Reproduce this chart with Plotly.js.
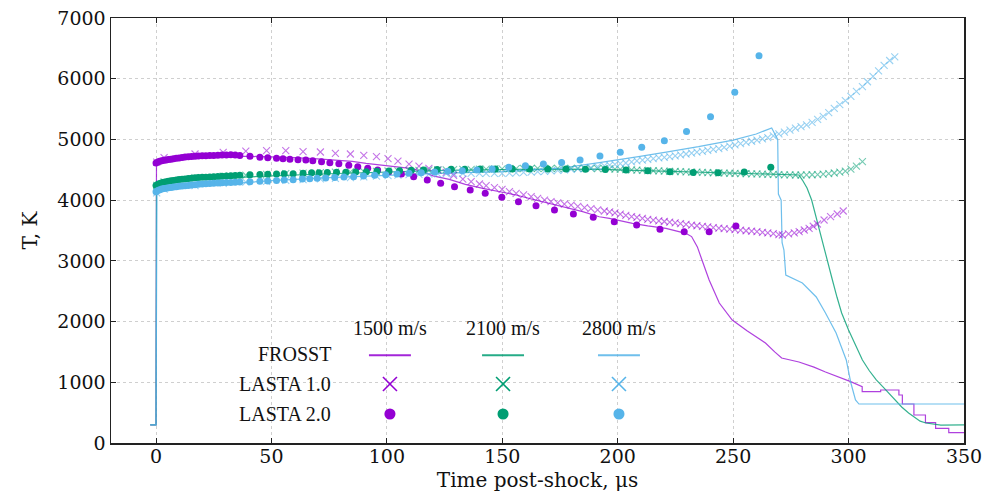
<!DOCTYPE html>
<html>
<head>
<meta charset="utf-8">
<script src="https://cdn.plot.ly/plotly-3.0.1.min.js"></script>
<style>html,body{margin:0;padding:0;background:#fff;}#chart{width:992px;height:500px;}</style>
</head>
<body>
<div id="chart"></div>
<script>
// ---- Data (time in µs, temperature in K) ----
const velocities = ["1500 m/s", "2100 m/s", "2800 m/s"];
const modelNames = ["FROSST", "LASTA 1.0", "LASTA 2.0"];
const colors = ["#9400d3", "#009e73", "#56b4e9"];

// FROSST (lines)
const frosst1500_t = [-2.5,0,0.2,1,3,6,10,15,20,30,40,50,60,70,80,85,91,101,106,111,116,120,127,134,141.6,149,156,163,170.4,177,184.8,192,196.4,206.4,213,220.9,226,229.5,232,234.5,236.5,239.6,244,249.6,256,264,268,271,278.5,285,290,296,300.9,305.9,305.9,313.9,313.9,321.8,321.8,323.3,323.3,328.3,328.3,333.3,333.3,337.7,337.7,343.4,343.4,350];
const frosst1500_T = [300,300,4600,4625,4650,4670,4690,4705,4712,4720,4722,4715,4700,4680,4655,4640,4606,4562,4545,4520,4460,4400,4342,4260,4194,4134,4085,4015,3947,3880,3810,3727,3700,3618,3575,3536,3490,3453,3400,3230,3014,2685,2306,2026,1850,1647,1500,1400,1334,1250,1170,1087,1010,927,845,845,873,873,791,791,642,642,461,461,335,335,241,241,170,170];

const frosst2100_t = [-2.5,0,0.2,2,5,10,20,30,50,75,100,125,150,175,190,200,220,240,260,270,278.5,280,282,284,286,288.5,291,293,295,297,300,303,306,309,312,315,317.5,320,323,326,329,331,333.5,337,340,350];
const frosst2100_T = [300,300,4240,4270,4295,4320,4345,4365,4400,4435,4465,4490,4505,4512,4510,4500,4480,4455,4430,4418,4414,4331,4200,4002,3700,3343,2990,2685,2400,2141,1861,1600,1367,1190,1038,920,823,720,593,495,412,360,329,305,296,300];

const frosst2800_t = [-2.5,0,0.4,2,5,10,20,30,50,75,100,125,150,175,192,200,209,221,235,250,260,266.7,268.5,269.3,269.6,270.8,271.2,272,272.8,275.5,280,286,290,294.6,299,301,303,304.5,350];
const frosst2800_T = [300,300,4100,4140,4170,4200,4240,4270,4320,4370,4410,4445,4470,4525,4617,4660,4716,4790,4880,4990,5090,5188,5060,5000,4100,4000,3300,3178,2767,2718,2635,2405,2141,1812,1367,988,708,642,642];

// LASTA 1.0 (x markers)
const lasta1_1500_t = [0.3,3.5,16.9,29.1,38.9,47.9,56.2,63.7,71.2,77.7,84.2,90,95.5,100.5,104.8,109.6,113.9,118.2,122.1,125.7,128.9,132.9,136.5,140.1,143,146.6,149.9,153.1,156,159.2,162.5,165.3,168.3,171.1,174,176.9,179.8,182.7,185.6,188.4,191.3,194.2,196.5,198.8,201.1,203.5,206,208.3,210.7,213,215.4,217.8,220.2,222.5,224.9,227.2,229.6,232,234.3,236.7,239,241.4,243.8,246.1,248.5,250.8,253.2,255.6,258,260.3,262.7,265,267.4,269.8,271.3,274,276.5,278.6,280.8,282.9,284.7,286.5,289.4,292.2,295.1,297.7];
const lasta1_1500_T = [4625,4700,4760,4787,4809,4815,4815,4798,4793,4771,4760,4738,4716,4683,4644,4595,4562,4524,4496,4458,4410,4345,4304,4266,4238,4205,4178,4139,4112,4085,4057,4030,4002,3975,3955,3936,3917,3898,3878,3859,3840,3821,3805,3790,3770,3750,3730,3715,3700,3685,3672,3660,3648,3637,3625,3612,3600,3590,3578,3568,3558,3548,3540,3532,3523,3515,3505,3496,3488,3480,3470,3460,3448,3432,3426,3445,3462,3480,3508,3536,3570,3607,3673,3727,3772,3821];

const lasta1_2100_t = [0.3,3.5,16.9,29.1,38.9,47.9,56.2,63.7,71.2,77.7,84.2,90,95.5,100.5,104.8,109.6,113.9,118.2,122.1,125.7,128.9,132.9,136.5,140.1,143,146.6,149.9,153.1,156,159.2,162.5,165.3,168.3,171.1,174,176.9,179.8,182.7,185.6,188.4,191.3,194.2,196.5,198.8,201.1,203.5,206,208.3,210.7,213,215.4,217.8,220.2,222.5,224.9,227.2,229.6,232,234.3,236.7,239,241.4,243.8,246.1,248.5,250.8,253.2,255.6,258,260.3,262.7,265,267.4,269.8,272.2,274.6,277,279.4,281.8,284.2,286.6,289,291.4,293.8,296.2,298.6,301,303.4,306];
const lasta1_2100_T = [4245,4300,4370,4395,4410,4425,4435,4445,4455,4460,4465,4470,4475,4480,4483,4487,4490,4494,4497,4500,4502,4505,4507,4510,4512,4514,4516,4518,4520,4521,4522,4523,4524,4524,4524,4524,4524,4524,4523,4522,4520,4518,4515,4512,4508,4503,4498,4494,4490,4487,4484,4481,4478,4475,4472,4469,4466,4463,4460,4457,4454,4451,4448,4446,4443,4440,4438,4436,4433,4431,4428,4426,4424,4420,4417,4415,4414,4414,4415,4418,4422,4428,4436,4447,4460,4478,4510,4560,4633];

const lasta1_2800_t = [0.3,3.5,16.9,29.1,38.9,47.9,56.2,63.7,71.2,77.7,84.2,90,95.5,100.5,104.8,109.6,113.9,118.2,122.1,125.7,128.9,132.9,136.5,140.1,143,146.6,149.9,153.1,156,159.2,162.5,165.3,168.3,171.1,174,176.9,179.8,182.7,185.6,188.4,191.3,194.2,196.5,198.8,201.1,203.5,206,208.3,210.7,213,215.4,217.8,220.2,222.5,224.9,227.2,229.6,232,234.3,236.7,239,241.4,243.8,246.1,248.5,250.8,253.2,255.6,258,260.3,262.7,265,267.4,269.8,272.2,274.6,277,279.4,281.8,284.2,286.6,289,291.4,293.8,296.2,298.6,301,303.4,306,308.2,310.6,313,315.4,317.8,320];
const lasta1_2800_T = [4120,4180,4240,4275,4295,4310,4325,4338,4350,4360,4372,4382,4395,4405,4412,4420,4425,4430,4433,4436,4438,4440,4441,4441,4441,4441,4442,4445,4450,4456,4462,4468,4475,4482,4490,4498,4507,4516,4526,4537,4550,4565,4578,4590,4600,4612,4630,4645,4660,4672,4685,4695,4705,4717,4730,4745,4760,4775,4790,4805,4820,4835,4850,4870,4890,4910,4930,4950,4970,4990,5010,5030,5060,5090,5120,5155,5185,5210,5240,5280,5330,5380,5440,5510,5575,5640,5710,5790,5870,5950,6040,6130,6220,6300,6360];

// LASTA 2.0 (dots)
const lasta2_1500_t = [0,0.8,1.6,2.5,3.4,4.4,5.4,6.5,7.6,8.8,10,11.3,12.6,14,15.4,16.9,18.4,20,21.6,23.3,25,26.8,28.6,30.5,32.4,34.3,36.3,40.7,45,48.4,52.2,55,58,61.5,64.9,67.9,71.7,75.3,79.2,83.5,87.4,91.7,96,100.8,106.3,111.6,117.5,123.3,129.3,136.1,142.6,149.8,157,164.6,172.6,180.8,189.4,198.5,208.2,218.3,228.8,239.6,251.2];
const lasta2_1500_T = [4610,4628,4640,4650,4657,4663,4668,4674,4680,4688,4696,4704,4710,4716,4720,4724,4728,4731,4733,4735,4737,4739,4742,4745,4748,4745,4735,4722,4708,4699,4689,4683,4675,4667,4660,4648,4633,4617,4598,4575,4551,4524,4497,4468,4430,4386,4333,4280,4222,4167,4112,4046,3975,3909,3838,3772,3717,3645,3590,3519,3480,3480,3576];

const lasta2_2100_t = [0,0.8,1.6,2.5,3.4,4.4,5.4,6.5,7.6,8.8,10,11.3,12.6,14,15.4,16.9,18.4,20,21.6,23.3,25,26.8,28.6,30.5,32.4,34.3,36.3,40.7,45,48.4,52.2,55.5,59.4,63.7,67.4,70.6,74.2,78.2,82.2,86.5,91.1,95.7,100.9,105.5,110.6,115.9,121.8,127.9,133.7,140.4,147,154.3,161.8,169.7,177.6,186,194.6,203.6,213,222.6,232.7,243.5,254.8,266.3];
const lasta2_2100_T = [4240,4262,4276,4286,4294,4302,4310,4318,4325,4332,4338,4344,4350,4356,4362,4367,4372,4376,4379,4382,4385,4388,4392,4396,4400,4404,4408,4417,4422,4425,4430,4433,4436,4445,4452,4453,4455,4458,4460,4463,4469,4477,4480,4485,4491,4496,4503,4508,4510,4511,4513,4513,4513,4513,4513,4510,4505,4496,4485,4469,4455,4452,4465,4540];

const lasta2_2800_t = [0,0.8,1.6,2.5,3.4,4.4,5.4,6.5,7.6,8.8,10,11.3,12.6,14,15.4,16.9,18.4,20,21.6,23.3,25,26.8,28.6,30.5,32.4,34.3,36.3,40.7,45,48.4,52.2,55.5,59.4,63.4,66.6,69.8,73.5,77.4,81.4,85.6,89.9,94.7,99.5,104.4,109.6,114.9,120.7,126.4,132.7,139,145.6,152.8,160,167.8,175.7,183.7,192.3,201.1,210.4,220.2,229.8,240.2,250.7,261.2];
const lasta2_2800_T = [4140,4160,4172,4182,4190,4197,4204,4210,4216,4222,4227,4232,4237,4243,4249,4255,4261,4266,4271,4276,4280,4284,4287,4290,4292,4295,4297,4304,4312,4316,4324,4330,4337,4348,4353,4359,4364,4375,4381,4386,4397,4408,4419,4430,4441,4452,4463,4475,4485,4496,4515,4540,4567,4595,4622,4661,4727,4787,4870,4979,5130,5374,5776,6379];

// ---- Traces ----
const lineAlpha = ["rgba(148,0,211,0.75)", "rgba(0,158,115,0.8)", "rgba(86,180,233,0.85)"];
const xAlpha = ["rgba(148,0,211,0.55)", "rgba(0,158,115,0.55)", "rgba(86,180,233,0.6)"];
const frT = [frosst1500_t, frosst2100_t, frosst2800_t];
const frV = [frosst1500_T, frosst2100_T, frosst2800_T];
const l1T = [lasta1_1500_t, lasta1_2100_t, lasta1_2800_t];
const l1V = [lasta1_1500_T, lasta1_2100_T, lasta1_2800_T];
const l2T = [lasta2_1500_t, lasta2_2100_t, lasta2_2800_t];
const l2V = [lasta2_1500_T, lasta2_2100_T, lasta2_2800_T];

const traces = [];
for (let i = 0; i < 3; i++) {
  traces.push({x: frT[i], y: frV[i], type: "scatter", mode: "lines",
    line: {color: lineAlpha[i], width: 1.2}, showlegend: false,
    name: modelNames[0] + " " + velocities[i]});
}
for (let i = 0; i < 3; i++) {
  traces.push({x: l1T[i], y: l1V[i], type: "scatter", mode: "markers",
    marker: {symbol: "x-thin", size: 7, line: {color: xAlpha[i], width: 1.1}, color: xAlpha[i]},
    showlegend: false, name: modelNames[1] + " " + velocities[i]});
}
for (let i = 0; i < 3; i++) {
  traces.push({x: l2T[i], y: l2V[i], type: "scatter", mode: "markers",
    marker: {symbol: "circle", size: 7, color: colors[i], line: {width: 0}},
    showlegend: false, name: modelNames[2] + " " + velocities[i]});
}

// ---- Custom table legend (paper coordinates) ----
const legFont = {family: "Liberation Serif, Times New Roman, serif", size: 20, color: "#111"};
const colX = [0.327, 0.4596, 0.5955];
const rowY = [0.2094, 0.1388, 0.0682];
const headY = 0.2706;
const annotations = [];
velocities.forEach((v, i) => annotations.push({xref: "paper", yref: "paper", x: colX[i], y: headY,
  text: v, showarrow: false, font: legFont, xanchor: "center", yanchor: "middle"}));
modelNames.forEach((m, j) => annotations.push({xref: "paper", yref: "paper", x: 0.2603, y: rowY[j],
  text: m, showarrow: false, font: legFont, xanchor: "right", yanchor: "middle"}));

const shapes = [];
const hw = 0.0246, xs = 0.0082, ys = 0.0165, rx = 0.0065, ry = 0.013;
for (let i = 0; i < 3; i++) {
  shapes.push({type: "line", xref: "paper", yref: "paper", x0: colX[i] - hw, x1: colX[i] + hw,
    y0: rowY[0] - 0.003, y1: rowY[0] - 0.003, line: {color: colors[i], width: 2}, opacity: 0.85});
  shapes.push({type: "line", xref: "paper", yref: "paper", x0: colX[i] - xs, x1: colX[i] + xs,
    y0: rowY[1] - ys, y1: rowY[1] + ys, line: {color: colors[i], width: 1.6}});
  shapes.push({type: "line", xref: "paper", yref: "paper", x0: colX[i] - xs, x1: colX[i] + xs,
    y0: rowY[1] + ys, y1: rowY[1] - ys, line: {color: colors[i], width: 1.6}});
  shapes.push({type: "circle", xref: "paper", yref: "paper", x0: colX[i] - rx, x1: colX[i] + rx,
    y0: rowY[2] - ry, y1: rowY[2] + ry, line: {width: 0}, fillcolor: colors[i]});
}

const tickFont = {family: "DejaVu Serif, serif", size: 19, color: "#111"};
const titleFont = {family: "DejaVu Serif, serif", size: 20, color: "#111"};
const axisCommon = {showline: true, linecolor: "#222", linewidth: 1.5, mirror: "ticks",
  ticks: "inside", ticklen: 5, tickwidth: 1, tickcolor: "#222",
  showgrid: true, gridcolor: "#cfcfcf", griddash: "dot", gridwidth: 1, zeroline: false,
  tickfont: tickFont};

const layout = {
  width: 992, height: 500,
  margin: {l: 111, r: 28, t: 18, b: 57},
  paper_bgcolor: "#fff", plot_bgcolor: "#fff",
  showlegend: false,
  xaxis: Object.assign({}, axisCommon, {range: [-19.5, 350], tickvals: [0,50,100,150,200,250,300,350],
    ticklabelstandoff: -4,
    title: {text: "Time post-shock, μs", font: titleFont, standoff: 6}}),
  yaxis: Object.assign({}, axisCommon, {range: [0, 7000], tickvals: [0,1000,2000,3000,4000,5000,6000,7000],
    title: {text: "T, K", font: titleFont, standoff: 14}}),
  annotations: annotations,
  shapes: shapes
};

Plotly.newPlot("chart", traces, layout, {staticPlot: true, displayModeBar: false});
</script>
</body>
</html>
